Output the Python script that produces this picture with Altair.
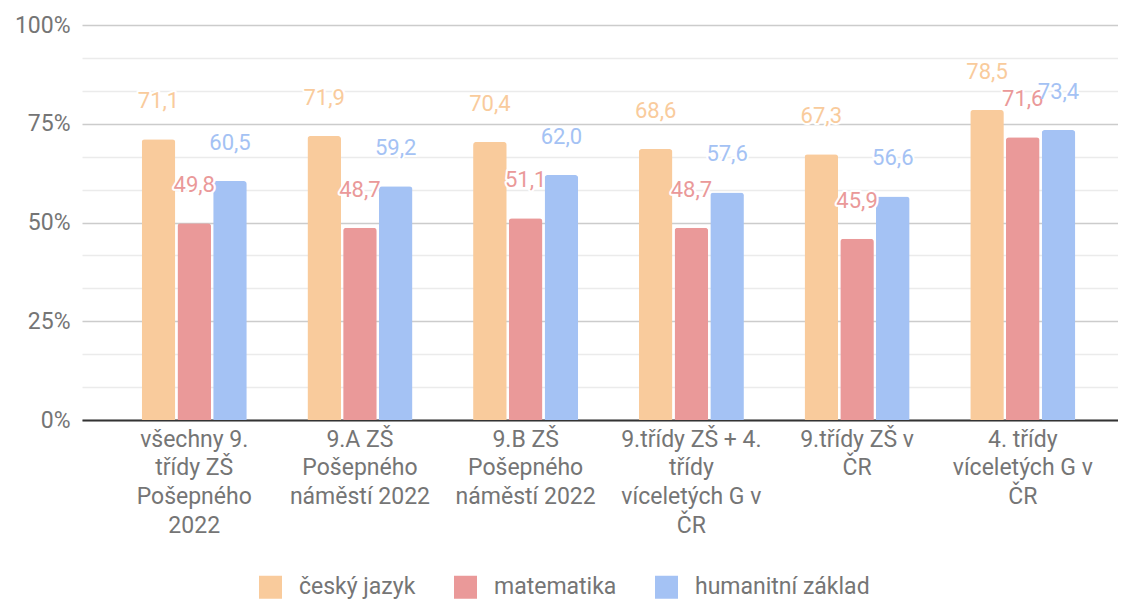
import altair as alt
import pandas as pd

categories = [
    "všechny 9.|třídy ZŠ|Pošepného|2022",
    "9.A ZŠ|Pošepného|náměstí 2022",
    "9.B ZŠ|Pošepného|náměstí 2022",
    "9.třídy ZŠ + 4.|třídy|víceletých G v|ČR",
    "9.třídy ZŠ v|ČR",
    "4. třídy|víceletých G v|ČR",
]
series = ["český jazyk", "matematika", "humanitní základ"]
cesky_jazyk = [71.1, 71.9, 70.4, 68.6, 67.3, 78.5]
matematika = [49.8, 48.7, 51.1, 48.7, 45.9, 71.6]
humanitni_zaklad = [60.5, 59.2, 62.0, 57.6, 56.6, 73.4]
colors = ["#f9cb9c", "#ea9999", "#a4c2f4"]
y_ticks = [0, 8.3333, 16.6667, 25, 33.3333, 41.6667, 50, 58.3333, 66.6667, 75, 83.3333, 91.6667, 100]

rows = []
for i, cat in enumerate(categories):
    for s, vals in zip(series, [cesky_jazyk, matematika, humanitni_zaklad]):
        rows.append({"kategorie": cat, "predmet": s, "hodnota": vals[i]})
df = pd.DataFrame(rows)

FONT = "Roboto"
TEXT_COLOR = "#757575"

x_enc = alt.X(
    "kategorie:N",
    sort=categories,
    scale=alt.Scale(paddingInner=0.366, paddingOuter=0.309, align=0.583),
    axis=alt.Axis(
        title=None,
        labelExpr="split(datum.label, '|')",
        labelAngle=0,
        labelFont=FONT,
        labelFontSize=23,
        labelLineHeight=28.7,
        labelColor=TEXT_COLOR,
        labelPadding=8,
        labelLimit=0,
        labelOverlap=False,
        ticks=False,
        domainColor="#333333",
        domainWidth=2,
        grid=False,
    ),
)
xoff_enc = alt.XOffset("predmet:N", sort=series, scale=alt.Scale(paddingInner=0.06, paddingOuter=0))
y_enc = alt.Y(
    "hodnota:Q",
    scale=alt.Scale(domain=[0, 100], nice=False, zero=True),
    axis=alt.Axis(
        title=None,
        values=y_ticks,
        labelExpr="(round(datum.value) % 25 == 0) ? round(datum.value) + '%' : ''",
        labelFont=FONT,
        labelFontSize=23,
        labelColor=TEXT_COLOR,
        labelPadding=12,
        domain=False,
        ticks=False,
        grid=True,
        gridColor={"condition": {"test": "round(datum.value) % 25 == 0", "value": "#cccccc"}, "value": "#ebebeb"},
        gridWidth=1.3,
    ),
)

base = alt.Chart(df).encode(x=x_enc, xOffset=xoff_enc, y=y_enc)

bars = base.mark_bar(cornerRadiusTopLeft=3, cornerRadiusTopRight=3).encode(
    color=alt.Color(
        "predmet:N",
        scale=alt.Scale(domain=series, range=colors),
        legend=alt.Legend(
            title=None,
            orient="none",
            legendX=177,
            legendY=550.5,
            direction="horizontal",
            symbolType="square",
            symbolSize=529,
            symbolStrokeWidth=0,
            symbolOpacity=1,
            labelFont=FONT,
            labelFontSize=23,
            labelColor=TEXT_COLOR,
            labelOffset=17,
            labelLimit=0,
            columnPadding=38,
            padding=0,
        ),
    )
)

label_calc = "replace(format(datum.hodnota, '.1f'), '.', ',')"

halo = base.mark_text(
    dy=-38, baseline="middle", font=FONT, fontSize=22, fill="white", stroke="white", strokeWidth=4, strokeJoin="round"
).transform_calculate(lbl=label_calc).encode(text="lbl:N")

labels = base.mark_text(
    dy=-38, baseline="middle", font=FONT, fontSize=22
).transform_calculate(lbl=label_calc).encode(
    text="lbl:N",
    color=alt.Color("predmet:N", scale=alt.Scale(domain=series, range=colors), legend=None),
)

chart = (
    alt.layer(bars, halo, labels)
    .properties(
        width=1036,
        height=395,
        autosize=alt.AutoSizeParams(type="none"),
        padding={"left": 74, "top": 17, "right": 0, "bottom": 182},
    )
    .configure_view(stroke=None)
)

chart.save("out.html", embed_options={"renderer": "svg", "actions": False})
